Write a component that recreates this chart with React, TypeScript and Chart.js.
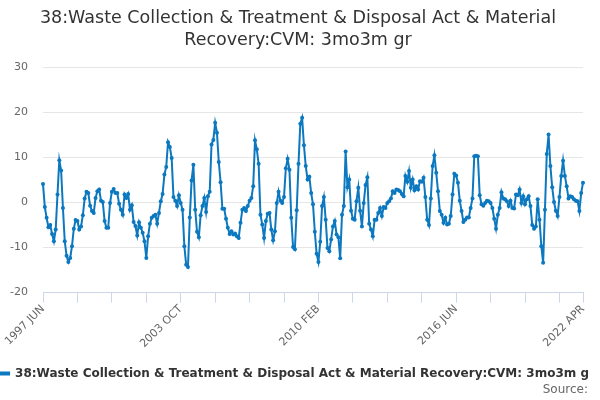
import React, { useEffect, useRef } from "react";
import { Chart, registerables } from "chart.js";

Chart.register(...registerables);

const FONT = "'DejaVu Sans', Verdana, sans-serif";
const SERIES_NAME = "38:Waste Collection & Treatment & Disposal Act & Material Recovery:CVM: 3mo3m gr";
const TITLE_LINES = ["38:Waste Collection & Treatment & Disposal Act & Material", "Recovery:CVM: 3mo3m gr"];
const SOURCE_TEXT = "Source:";

const START_YEAR = 1997;
const START_MONTH_INDEX = 5; // June
const MONTH_NAMES = ["JAN", "FEB", "MAR", "APR", "MAY", "JUN", "JUL", "AUG", "SEP", "OCT", "NOV", "DEC"];
const TICK_LABELS = ["1997 JUN", "2003 OCT", "2010 FEB", "2016 JUN", "2022 APR"];
const TICK_EVERY = 19;
const Y_MIN = -20;
const Y_MAX = 30;
const Y_STEP = 10;

// 3mo3m growth, monthly, 1997 JUN .. 2022 APR
const VALUES = [
  4.1, -1.0, -3.4, -5.5, -5.0, -7.0, -8.6, -6.0, 1.8, 9.4,
  7.1, -1.2, -8.6, -11.8, -13.2, -12.3, -9.7, -5.8, -3.9, -4.1,
  -6.0, -5.3, -2.8, 0.9, 2.4, 2.1, -0.7, -1.9, -2.3, 1.0,
  2.5, 2.9, 0.4, 0.1, -4.1, -5.6, -5.6, -0.1, 2.4, 3.0,
  2.1, 2.1, -0.3, -1.6, -2.7, 1.8, 1.0, 1.9, -1.6, -0.6,
  -4.3, -5.2, -7.3, -4.4, -5.6, -6.7, -8.6, -12.3, -7.5, -4.7,
  -3.4, -3.0, -2.7, -4.7, -2.3, 0.3, 1.9, 6.2, 7.9, 13.4,
  12.3, 9.9, 1.2, 0.4, -0.8, 1.6, -0.1, -1.6, -9.7, -13.8,
  -14.3, -3.3, 4.9, 8.4, -1.6, -6.5, -7.7, -2.8, -0.8, 1.0,
  -2.1, 1.4, 2.4, 12.9, 13.9, 17.7, 15.5, 9.0, 4.5, -1.4,
  -1.4, -3.6, -5.6, -7.0, -6.4, -7.1, -6.9, -7.5, -7.9, -4.5,
  -1.6, -1.2, -1.9, -0.8, 0.4, 1.0, 3.6, 13.8, 11.8, 8.6,
  -2.7, -4.9, -7.9, -4.1, -2.5, -2.3, -6.0, -8.4, -6.4, -0.1,
  2.4, 0.4, -0.1, 1.2, 7.6, 9.7, 7.3, -3.4, -9.9, -10.4,
  -1.7, 8.6, 17.5, 18.8, 12.7, 8.1, 5.1, 5.7, 2.1, -0.4,
  -6.5, -11.4, -13.2, -8.7, -0.8, 1.2, -3.8, -10.1, -10.8, -8.2,
  -5.3, -4.1, -7.1, -7.7, -12.4, -2.7, -0.8, 11.3, 3.4, 5.1,
  -1.8, -3.6, -3.8, 0.3, 3.3, -1.8, -5.3, -0.1, 3.9, 5.6,
  -4.7, -6.0, -7.5, -3.8, -3.8, -2.3, -1.2, -3.0, -1.0, -1.2,
  -0.1, 0.3, 0.9, 2.5, 2.1, 2.9, 2.8, 2.5, 1.9, 1.4,
  5.9, 4.6, 7.0, 3.3, 5.1, 2.7, 3.6, 2.9, 4.7, 4.6,
  5.5, 1.2, -3.8, -5.0, 0.9, 8.1, 10.5, 6.6, 2.5, -1.9,
  -2.7, -4.5, -3.4, -4.9, -4.7, -3.0, 1.8, 6.4, 6.0, 4.4,
  0.4, -1.9, -4.3, -3.8, -3.3, -3.3, -1.2, 0.9, 10.3, 10.4,
  10.3, 1.6, -0.4, -0.7, -0.1, 0.4, 0.3, -0.1, -1.2, -3.6,
  -5.8, -2.7, -1.2, 2.3, 0.9, 0.7, 0.3, -0.8, 0.4, -1.2,
  -1.3, 1.8, 1.6, 2.9, -0.1, 1.4, -0.4, 0.7, 1.4, -0.8,
  -5.0, -5.8, -5.3, 0.7, -3.8, -9.7, -13.4, -1.6, 10.8, 15.1,
  8.1, 3.4, 0.1, -1.8, -3.0, 1.2, 5.9, 9.3, 5.9, 3.6,
  0.9, 1.4, 1.2, 0.7, 0.4, 0.3, -1.9, 2.1, 4.4,
];

const CATEGORIES = VALUES.map((_, i) => {
  const m = START_MONTH_INDEX + i;
  return `${START_YEAR + Math.floor(m / 12)} ${MONTH_NAMES[m % 12]}`;
});

const LINE_COLOR = "#0b78bf";

// Centre the title across (almost) the full canvas width, independent of layout padding.
const titleSpanPlugin = {
  id: "titleSpan",
  afterLayout(chart: any) {
    if (chart.titleBlock) {
      chart.titleBlock.left = 0;
      chart.titleBlock.right = 596;
    }
  },
};

export default function App() {
  const canvasRef = useRef<HTMLCanvasElement | null>(null);

  useEffect(() => {
    const canvas = canvasRef.current;
    if (!canvas) return;
    Chart.defaults.font.family = FONT;
    const lastIndex = CATEGORIES.length - 1;
    const chart = new Chart(canvas, {
      type: "line",
      data: {
        labels: CATEGORIES,
        datasets: [
          {
            label: SERIES_NAME,
            data: VALUES,
            borderColor: LINE_COLOR,
            backgroundColor: LINE_COLOR,
            borderWidth: 2,
            pointRadius: 2,
            pointBorderWidth: 0,
            pointBackgroundColor: LINE_COLOR,
            tension: 0,
            fill: false,
          },
        ],
      },
      plugins: [titleSpanPlugin],
      options: {
        animation: false,
        responsive: false,
        devicePixelRatio: 1,
        layout: { padding: { left: 0, right: 12, top: 0, bottom: 3 } },
        plugins: {
          title: {
            display: true,
            text: TITLE_LINES,
            color: "#333333",
            font: { family: FONT, size: 17.5, weight: "normal", lineHeight: 1.24 },
            padding: { top: 8, bottom: 16 },
          },
          subtitle: {
            display: true,
            position: "bottom",
            align: "end",
            text: SOURCE_TEXT,
            color: "#666666",
            font: { family: FONT, size: 12, weight: "normal" },
            padding: { top: -7, bottom: 0 },
          },
          legend: {
            display: true,
            position: "bottom",
            labels: {
              color: "#333333",
              font: { family: FONT, size: 12, weight: "bold" },
              boxWidth: 16,
              boxHeight: 2,
              padding: 8,
            },
          },
          tooltip: { enabled: false },
        },
        scales: {
          x: {
            type: "category",
            grid: {
              display: true,
              drawOnChartArea: false,
              drawTicks: true,
              tickLength: 10,
              color: "#ccd6eb",
            },
            border: { display: true, color: "#ccd6eb", width: 1 },
            ticks: {
              autoSkip: false,
              minRotation: 45,
              maxRotation: 45,
              color: "#666666",
              font: { family: FONT, size: 11 },
              padding: 0,
              callback: (value: any) => {
                const lbl = CATEGORIES[value as number];
                return TICK_LABELS.includes(lbl) ? lbl : "";
              },
            },
            afterBuildTicks: (scale: any) => {
              scale.ticks = scale.ticks.filter(
                (t: any) => t.value % TICK_EVERY === 0 || t.value === lastIndex
              );
            },
            afterFit: (scale: any) => {
              scale.height = 67;
            },
          },
          y: {
            min: Y_MIN,
            max: Y_MAX,
            ticks: {
              stepSize: Y_STEP,
              color: "#666666",
              font: { family: FONT, size: 11 },
              padding: 15,
            },
            grid: { color: "#e6e6e6", drawTicks: false },
            border: { display: false },
            afterFit: (scale: any) => {
              scale.width = 43;
            },
          },
          y2: {
            position: "right",
            display: true,
            grid: { display: false },
            ticks: { display: false },
            border: { display: false },
            afterFit: (scale: any) => {
              scale.width = 5;
            },
          },
        },
      },
    });
    return () => chart.destroy();
  }, []);

  return (
    <div style={{ position: "absolute", left: 0, top: 0, width: 600, height: 400, background: "#ffffff" }}>
      <canvas ref={canvasRef} width={600} height={400} style={{ width: 600, height: 400, display: "block" }} />
    </div>
  );
}
